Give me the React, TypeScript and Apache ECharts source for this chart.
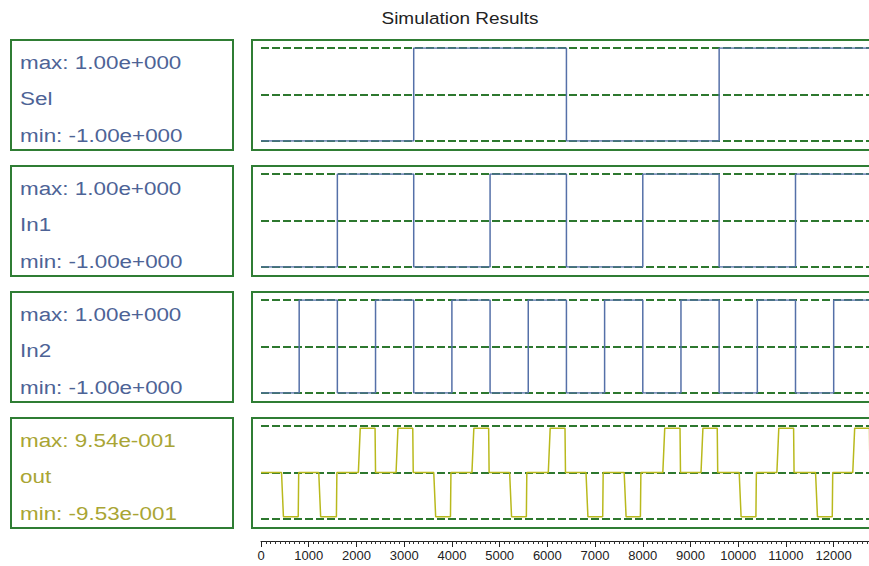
import React, { useEffect, useRef } from "react";
import * as echarts from "echarts";

const TITLE = "Simulation Results";
const signalNames = ["Sel", "In1", "In2", "out"];
const maxLabels = ["max: 1.00e+000", "max: 1.00e+000", "max: 1.00e+000", "max: 9.54e-001"];
const minLabels = ["min: -1.00e+000", "min: -1.00e+000", "min: -1.00e+000", "min: -9.53e-001"];

// transition times and levels (step signals)
const selTimes = [0, 3200, 6400, 9600, 12800];
const selLevels = [-1, 1, -1, 1, -1];
const in1Times = [0, 1600, 3200, 4800, 6400, 8000, 9600, 11200, 12800];
const in1Levels = [-1, 1, -1, 1, -1, 1, -1, 1, -1];
const in2Times = [0, 800, 1600, 2400, 3200, 4000, 4800, 5600, 6400, 7200, 8000, 8800, 9600, 10400, 11200, 12000, 12800];
const in2Levels = [-1, 1, -1, 1, -1, 1, -1, 1, -1, 1, -1, 1, -1, 1, -1, 1, -1];

// output pulses
const outPulseStart = [430, 1210, 2040, 2830, 3620, 4420, 5210, 6020, 6810, 7610, 8420, 9220, 10020, 10810, 11620, 12400];
const outPulseEnd = [780, 1580, 2390, 3180, 3970, 4770, 5560, 6370, 7160, 7950, 8780, 9560, 10370, 11160, 11970, 12750];
const outPulseSign = [-1, -1, 1, 1, -1, 1, -1, 1, -1, -1, 1, 1, -1, 1, -1, 1];
const outMax = 0.954;
const outMin = -0.953;

const xMin = 0;
const xMax = 12740;
const xInterval = 1000;

const BLUE = "#5570a8";
const BLUE_TEXT = "#4d6396";
const OLIVE = "#b9b91c";
const OLIVE_TEXT = "#a9a534";
const GREEN = "#2d782f";
const BOX = "#2f7d34";

function stepData(times: number[], levels: number[]) {
  return times.map((t, i) => [t, levels[i]]);
}

function outData() {
  const pts: number[][] = [[0, 0]];
  outPulseStart.forEach((s, i) => {
    const v = outPulseSign[i] > 0 ? outMax : outMin;
    const e = outPulseEnd[i];
    pts.push([s, 0], [s + 40, v], [e, v], [e + 10, 0]);
  });
  pts.push([13000, 0]);
  return pts;
}

export default function App() {
  const ref = useRef<HTMLDivElement>(null);
  useEffect(() => {
    if (!ref.current) return;
    const chart = echarts.init(ref.current, undefined, { renderer: "svg" });
    const panelTops = [48, 174, 300, 426];
    const panelH = 93;
    const grids: any[] = panelTops.map((t) => ({ left: 261, right: 0, top: t, height: panelH }));
    grids.push({ left: 261, right: 0, top: 540, height: 1 });

    const xAxes: any[] = panelTops.map((_, i) => ({
      gridIndex: i,
      type: "value",
      min: xMin,
      max: xMax,
      show: false,
    }));
    xAxes.push({
      gridIndex: 4,
      type: "value",
      min: xMin,
      max: xMax,
      interval: xInterval,
      axisLine: { show: true, lineStyle: { color: "#222", width: 1 } },
      axisTick: { show: true, length: 6, lineStyle: { color: "#222" } },
      minorTick: { show: true, splitNumber: 10, length: 3, lineStyle: { color: "#333" } },
      splitLine: { show: false },
      axisLabel: {
        show: true,
        interval: 0,
        fontSize: 13,
        fontFamily: "Liberation Sans, Arial, sans-serif",
        color: "#222",
        margin: 8,
        showMaxLabel: false,
        formatter: (v: number) => String(v),
      },
    });

    const yAxes: any[] = panelTops.map((_, i) => ({
      gridIndex: i,
      type: "value",
      min: -1,
      max: 1,
      interval: 1,
      axisLine: { show: false },
      axisTick: { show: false },
      axisLabel: { show: false },
      splitLine: { show: true, lineStyle: { color: GREEN, type: [8, 3], width: 1.8 } },
    }));
    yAxes.push({ gridIndex: 4, type: "value", show: false });

    const mkLine = (i: number, data: number[][], color: string, step: any) => ({
      type: "line",
      xAxisIndex: i,
      yAxisIndex: i,
      data,
      step,
      symbol: "none",
      showSymbol: false,
      silent: true,
      lineStyle: { color, width: 1.5 },
      z: 3,
    });

    const series = [
      mkLine(0, stepData(selTimes, selLevels), BLUE, "end"),
      mkLine(1, stepData(in1Times, in1Levels), BLUE, "end"),
      mkLine(2, stepData(in2Times, in2Levels), BLUE, "end"),
      mkLine(3, outData(), OLIVE, false),
    ];

    const graphics: any[] = [
      {
        type: "text",
        x: 460,
        y: 18,
        scaleX: 1.15,
        style: {
          text: TITLE,
          fontSize: 16.5,
          fontFamily: "Liberation Sans, Arial, sans-serif",
          fill: "#222",
          textAlign: "center",
          textVerticalAlign: "middle",
        },
      },
    ];
    panelTops.forEach((t, i) => {
      const boxTop = t - 8;
      const tc = i === 3 ? OLIVE_TEXT : BLUE_TEXT;
      graphics.push({
        type: "rect",
        shape: { x: 11, y: boxTop, width: 222, height: 110 },
        style: { fill: "none", stroke: BOX, lineWidth: 2 },
      });
      graphics.push({
        type: "rect",
        shape: { x: 252, y: boxTop, width: 660, height: 110 },
        style: { fill: "none", stroke: BOX, lineWidth: 2 },
      });
      const lines = [maxLabels[i], signalNames[i], minLabels[i]];
      const offs = [21.7, 58.5, 95];
      lines.forEach((txt, k) => {
        graphics.push({
          type: "text",
          x: 20,
          y: boxTop + offs[k],
          scaleX: 1.18,
          style: {
            text: txt,
            fontSize: 19,
            fontFamily: "Liberation Sans, Arial, sans-serif",
            fill: tc,
            textAlign: "left",
            textVerticalAlign: "middle",
          },
        });
      });
    });

    chart.setOption({
      animation: false,
      backgroundColor: "#ffffff",
      grid: grids,
      xAxis: xAxes,
      yAxis: yAxes,
      series,
      graphic: graphics,
    });
    return () => chart.dispose();
  }, []);
  return (
    <div
      ref={ref}
      style={{ position: "absolute", left: 0, top: 0, width: 869, height: 566, overflow: "hidden" }}
    />
  );
}
